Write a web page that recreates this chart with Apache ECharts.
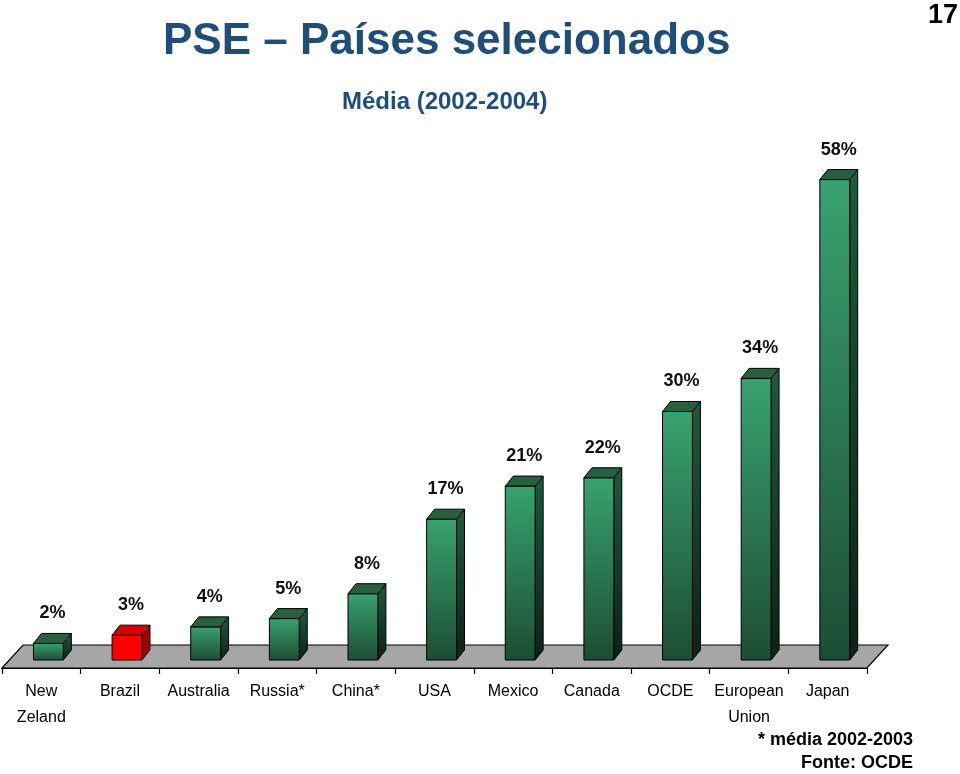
<!DOCTYPE html>
<html>
<head>
<meta charset="utf-8">
<script src="https://cdn.jsdelivr.net/npm/echarts@6/dist/echarts.min.js"></script>
<style>
  html, body { margin: 0; padding: 0; background: #ffffff; }
  #chart { width: 960px; height: 774px; }
</style>
</head>
<body>
<div id="chart"></div>
<script>
// PSE por país, média 2002-2004 (%)
const countries = ['New\nZeland', 'Brazil', 'Australia', 'Russia*', 'China*', 'USA', 'Mexico', 'Canada', 'OCDE', 'European\nUnion', 'Japan'];
const pse = [2, 3, 4, 5, 8, 17, 21, 22, 30, 34, 58];
const highlight = 'Brazil';

const FONT = '"Liberation Sans", Arial, sans-serif';
const BLUE = '#1f4e7a';

const chart = echarts.init(document.getElementById('chart'));

// piso cinza em perspectiva, calculado a partir do grid
function renderFloor(params) {
    const cs = params.coordSys;
    const x0 = cs.x, x1 = cs.x + cs.width;
    const yb = cs.y + cs.height;
    return {
        type: 'polygon',
        shape: { points: [[x0, yb + 8], [x1, yb + 8], [x1 + 21, yb - 15], [x0 + 21, yb - 15]] },
        style: { fill: '#a6a6a6', stroke: '#000', lineWidth: 1.2 }
    };
}

function renderBar(params, api) {
    const i = api.value(0), v = api.value(1);
    const top = api.coord([i, v]);
    const base = api.coord([i, 0]);
    const band = api.size([1, 0])[0];
    const w = band * 0.38, sx = band * 0.09;
    const x0 = top[0] + sx - w / 2, x1 = x0 + w;
    const y0 = top[1], y1 = base[1];
    const dx = 8, dy = -10;
    const red = countries[i] === highlight;
    const front = red ? '#ff0000' : new echarts.graphic.LinearGradient(0, 0, 0, 1, [
        { offset: 0, color: '#38a26f' },
        { offset: 1, color: '#1d4d35' }
    ]);
    const side = red ? '#a30000' : new echarts.graphic.LinearGradient(0, 0, 0, 1, [
        { offset: 0, color: '#1f5a3d' },
        { offset: 1, color: '#0b2217' }
    ]);
    const cap = red ? '#d00000' : '#27603f';
    return {
        type: 'group',
        children: [
            {
                type: 'polygon',
                shape: { points: [[x1, y0], [x1 + dx, y0 + dy], [x1 + dx, y1 + dy], [x1, y1]] },
                style: { fill: side, stroke: '#000', lineWidth: 1 }
            },
            {
                type: 'rect',
                shape: { x: x0, y: y0, width: w, height: y1 - y0 },
                style: { fill: front, stroke: '#000', lineWidth: 1 }
            },
            {
                type: 'polygon',
                shape: { points: [[x0, y0], [x1, y0], [x1 + dx, y0 + dy], [x0 + dx, y0 + dy]] },
                style: { fill: cap, stroke: '#000', lineWidth: 1 }
            },
            {
                type: 'text',
                style: {
                    text: v + '%',
                    x: (x0 + x1) / 2 + dx / 2,
                    y: y0 + dy - 11,
                    align: 'center',
                    verticalAlign: 'bottom',
                    fill: '#111',
                    font: 'bold 18px ' + FONT
                }
            }
        ]
    };
}

const option = {
    backgroundColor: '#ffffff',
    animation: false,
    grid: { left: 2, right: 93, top: 163, bottom: 114 },
    xAxis: {
        type: 'category',
        data: countries,
        offset: 8,
        z: 10,
        axisLine: { onZero: false, lineStyle: { color: '#000', width: 1.2 } },
        axisTick: { show: true, interval: 0, length: 6, lineStyle: { color: '#000', width: 1.2 } },
        axisLabel: {
            interval: 0,
            margin: 11,
            color: '#000',
            fontFamily: FONT,
            fontSize: 16,
            lineHeight: 26
        }
    },
    yAxis: {
        type: 'value',
        min: 0,
        max: 60,
        show: false,
        splitLine: { show: false }
    },
    series: [
        {
            name: 'floor',
            type: 'custom',
            silent: true,
            clip: false,
            z: 1,
            data: [[0, 0]],
            renderItem: renderFloor
        },
        {
            name: 'PSE',
            type: 'custom',
            clip: false,
            z: 2,
            encode: { x: 0, y: 1 },
            data: pse.map((v, i) => [i, v]),
            renderItem: renderBar
        }
    ],
    graphic: [
        {
            type: 'text', left: 163, top: 20,
            style: { text: 'PSE – Países selecionados', fill: BLUE, font: 'bold 44px ' + FONT }
        },
        {
            type: 'text', left: 342, top: 90,
            style: { text: 'Média (2002-2004)', fill: BLUE, font: 'bold 24px ' + FONT }
        },
        {
            type: 'text', right: 2, top: 2,
            style: { text: '17', fill: '#000', font: 'bold 27px ' + FONT }
        },
        {
            type: 'text', right: 47, top: 731,
            style: { text: '* média 2002-2003', fill: '#000', font: 'bold 18px ' + FONT, align: 'right' }
        },
        {
            type: 'text', right: 47, top: 754,
            style: { text: 'Fonte: OCDE', fill: '#000', font: 'bold 18px ' + FONT, align: 'right' }
        }
    ]
};

chart.setOption(option);
window.addEventListener('resize', () => chart.resize());
</script>
</body>
</html>
